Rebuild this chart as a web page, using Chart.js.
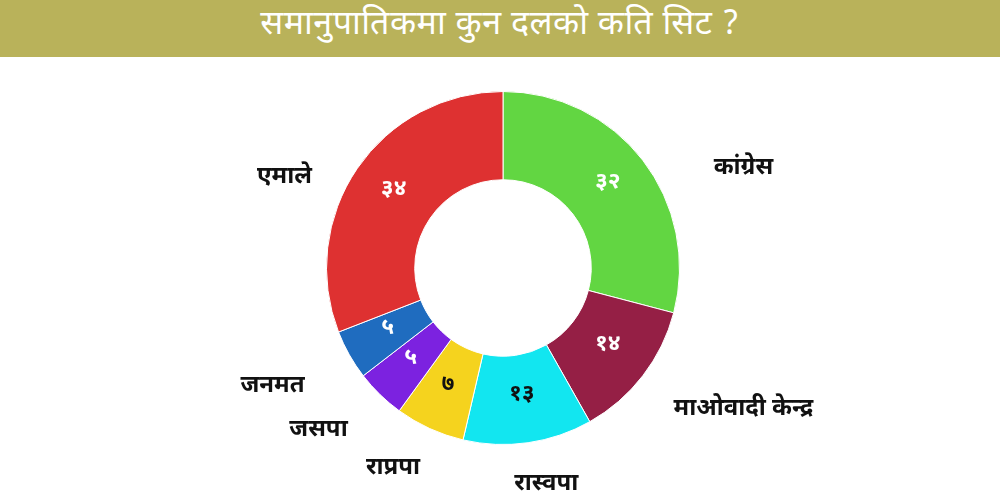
<!DOCTYPE html>
<html>
<head>
<meta charset="utf-8">
<script src="https://cdn.jsdelivr.net/npm/chart.js@4"></script>
<style>
  html,body{margin:0;padding:0;background:#fff;width:1000px;height:500px;overflow:hidden;}
  #band{position:absolute;left:0;top:0;width:1000px;height:57px;background:#b9b25a;color:#fff;
    font-family:"Noto Sans Devanagari","Noto Sans",sans-serif;font-size:34px;text-align:center;line-height:52px;letter-spacing:0.5px;}
  #wrap{position:absolute;left:0;top:0;width:1000px;height:500px;}
</style>
</head>
<body>
<div id="wrap"><canvas id="c" width="1000" height="500"></canvas></div>
<div id="band">समानुपातिकमा कुन दलको कति सिट ?</div>
<script>
const parties = ["कांग्रेस", "माओवादी केन्द्र", "रास्वपा", "राप्रपा", "जसपा", "जनमत", "एमाले"];
const seats = [32, 14, 13, 7, 5, 5, 34];
const seatLabels = ["३२", "१४", "१३", "७", "५", "५", "३४"];
const colors = ["#62d642", "#951f45", "#12e6f0", "#f5d31e", "#7c22e0", "#1f6cbf", "#de3131"];
const numberColors = ["#ffffff", "#ffffff", "#111111", "#111111", "#ffffff", "#ffffff", "#ffffff"];

const FONT = '"Noto Sans Devanagari","Noto Sans",sans-serif';

const labelPlugin = {
  id: 'labels',
  afterDatasetsDraw(chart) {
    const ctx = chart.ctx;
    const meta = chart.getDatasetMeta(0);
    ctx.save();
    ctx.textAlign = 'center';
    ctx.textBaseline = 'middle';
    meta.data.forEach((arc, i) => {
      const p = arc.tooltipPosition();
      ctx.font = 'bold 23px ' + FONT;
      ctx.fillStyle = numberColors[i];
      ctx.fillText(seatLabels[i], p.x, p.y - 3);
      const mid = (arc.startAngle + arc.endAngle) / 2;
      const R = arc.outerRadius;
      const sx = Math.cos(mid), sy = Math.sin(mid);
      const fx = sx > 0 ? 1.72 : 1.5;
      const x = arc.x + sx * R * fx;
      const y = arc.y + sy * R * 1.12 + 22;
      ctx.fillStyle = '#111111';
      ctx.font = 'bold 24px ' + FONT;
      ctx.fillText(parties[i], x, y);
    });
    ctx.restore();
  }
};

new Chart(document.getElementById('c'), {
  type: 'doughnut',
  data: {
    labels: parties,
    datasets: [{
      data: seats,
      backgroundColor: colors,
      borderColor: '#ffffff',
      borderWidth: 1
    }]
  },
  options: {
    responsive: false,
    animation: false,
    cutout: '50%',
    layout: { padding: { top: 91, bottom: 55, left: 6, right: 0 } },
    plugins: { legend: { display: false }, tooltip: { enabled: false } }
  },
  plugins: [labelPlugin]
});
</script>
</body>
</html>
